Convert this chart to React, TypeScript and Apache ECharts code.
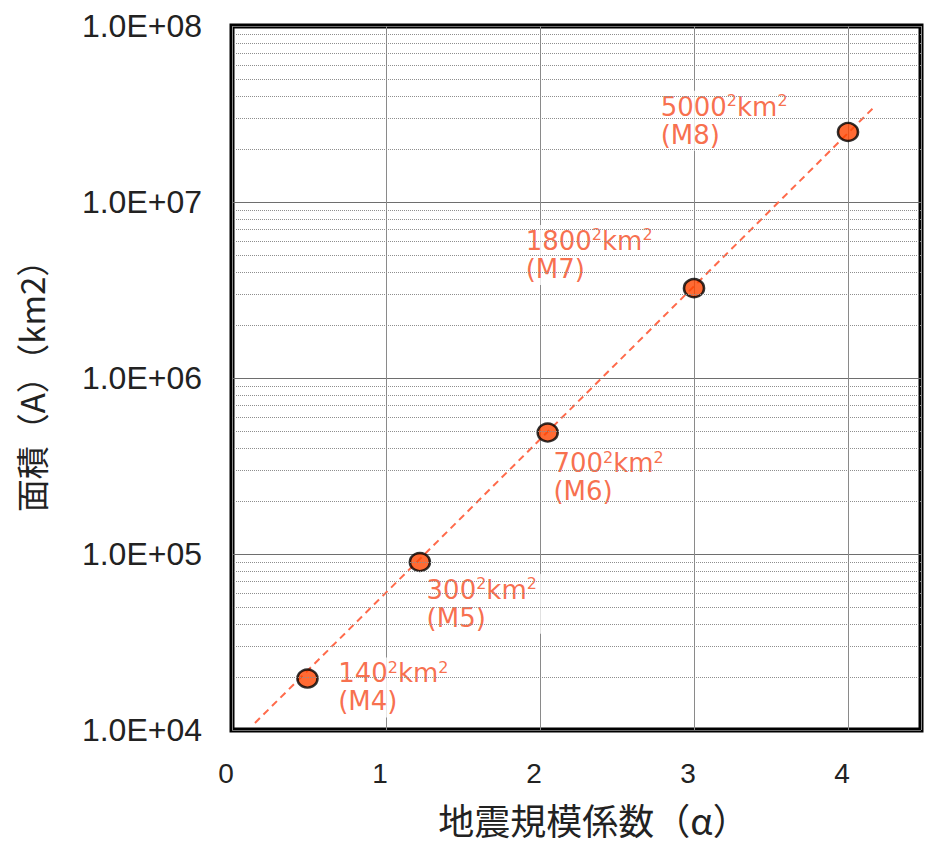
import React, { useEffect, useRef } from "react";
import * as echarts from "echarts";

// ---- data ----
const alphaValues = [0.49, 1.22, 2.05, 3.0, 4.0];
const areaValues = [19600, 90000, 490000, 3240000, 25000000];
const sideLengths = ["140", "300", "700", "1800", "5000"];
const magnitudes = ["M4", "M5", "M6", "M7", "M8"];
const trendAlpha = [0.149, 4.175];
const trendArea = [10960, 35000000];
const xTickValues = [0, 1, 2, 3, 4];
const yTickLabels = ["1.0E+04", "1.0E+05", "1.0E+06", "1.0E+07", "1.0E+08"];
const decadeStarts = [10000, 100000, 1000000, 10000000];
const minorMultipliers = [2, 3, 4, 5, 6, 7, 8, 9];

// ---- layout (label placement relative to marker bounding box) ----
const labelPositions: [number, number][] = [
  [38, -11],
  [14, 22],
  [13, 25],
  [-161, -53],
  [-180, -31],
];

const ORANGE = "#f64a1e";

export default function App() {
  const ref = useRef<HTMLDivElement>(null);
  useEffect(() => {
    if (!ref.current) return;
    const chart = echarts.init(ref.current, undefined, { renderer: "svg" });

    const minorLines: any[] = [];
    decadeStarts.forEach((d) =>
      minorMultipliers.forEach((m) => minorLines.push({ yAxis: d * m }))
    );

    const scatterData = alphaValues.map((x, i) => ({
      value: [x, areaValues[i]],
      label: {
        position: labelPositions[i],
        formatter: `{n|${sideLengths[i]}}{s|2}{n|km}{s|2}\n{n|(${magnitudes[i]})}`,
      },
    }));

    chart.setOption({
      animation: false,
      backgroundColor: "#fff",
      grid: {
        left: 232,
        right: 4,
        top: 26,
        bottom: 119,
        show: true,
        borderColor: "#000",
        borderWidth: 5,
        backgroundColor: "transparent",
      },
      xAxis: {
        type: "value",
        min: 0,
        max: 4.474,
        interval: 1,
        name: "地震規模係数（α）",
        nameLocation: "middle",
        nameGap: 71,
        nameTextStyle: {
          fontFamily: "Noto Sans CJK JP",
          fontSize: 36,
          lineHeight: 36,
          color: "#222",
          padding: [0, 0, 0, 34],
        },
        axisLine: { show: false },
        axisTick: { show: false },
        axisLabel: {
          showMaxLabel: false,
          margin: 29,
          fontFamily: "Liberation Sans",
          fontSize: 28,
          color: "#222",
          padding: [0, 12, 0, 0],
          formatter: (v: number) =>
            xTickValues.indexOf(v) >= 0 ? String(v) : "",
        },
        splitLine: { show: true, lineStyle: { color: "#8a8a8a", width: 1 } },
      },
      yAxis: {
        type: "log",
        logBase: 10,
        min: 10000,
        max: 100000000,
        name: "面積（A）（km2）",
        nameLocation: "middle",
        nameGap: 185,
        nameTextStyle: {
          fontFamily: "Noto Sans CJK JP",
          fontSize: 33,
          color: "#222",
        },
        axisLine: { show: false },
        axisTick: { show: false },
        axisLabel: {
          margin: 30,
          fontFamily: "Liberation Sans",
          fontSize: 32,
          color: "#222",
          formatter: (v: number) => {
            const idx = Math.round(Math.log10(v)) - 4;
            return yTickLabels[idx] ?? "";
          },
        },
        splitLine: { show: true, lineStyle: { color: "#6e6e6e", width: 1 } },
      },
      series: [
        {
          type: "line",
          data: [],
          z: 1,
          silent: true,
          markLine: {
            silent: true,
            symbol: "none",
            label: { show: false },
            lineStyle: { type: "dotted", color: "#8e8e8e", width: 1 },
            data: minorLines,
          },
        },
        {
          type: "line",
          z: 2,
          silent: true,
          symbol: "none",
          data: trendAlpha.map((x, i) => [x, trendArea[i]]),
          lineStyle: { type: [7, 5], color: "#ff6a4a", width: 2 },
        },
        {
          type: "scatter",
          z: 3,
          symbol: "circle",
          symbolSize: [20, 18],
          itemStyle: { color: "#ff4500", borderColor: "#000", borderWidth: 2.5 },
          label: {
            show: true,
            align: "left",
            verticalAlign: "top",
            backgroundColor: "#fff",
            padding: [2, 4],
            rich: {
              n: {
                fontFamily: "DejaVu Sans",
                fontSize: 26,
                lineHeight: 28,
                color: ORANGE,
              },
              s: {
                fontFamily: "DejaVu Sans",
                fontSize: 16,
                lineHeight: 16,
                verticalAlign: "top",
                color: ORANGE,
              },
            },
          },
          data: scatterData,
        },
      ],
    });
    return () => chart.dispose();
  }, []);
  return (
    <div
      ref={ref}
      style={{ position: "absolute", left: 0, top: 0, width: 925, height: 849 }}
    />
  );
}
